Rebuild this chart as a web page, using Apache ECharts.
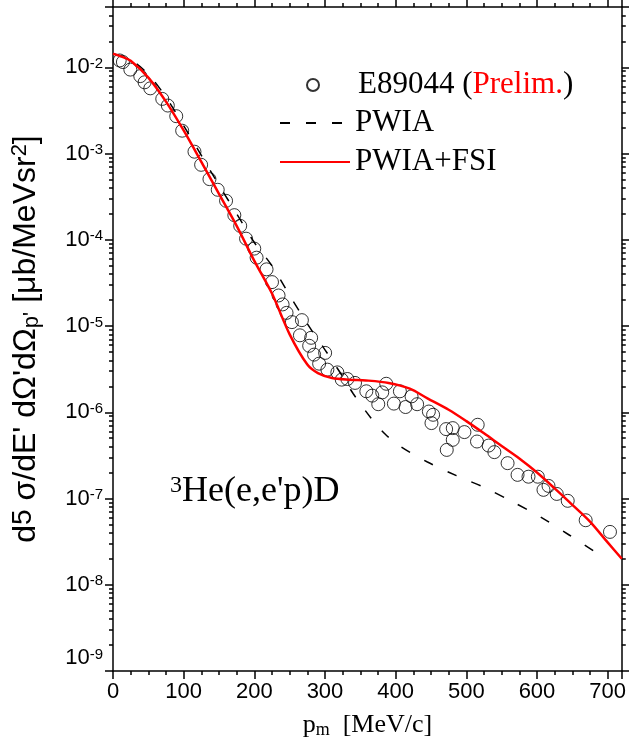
<!DOCTYPE html>
<html><head><meta charset="utf-8">
<script src="https://cdn.jsdelivr.net/npm/echarts@6/dist/echarts.min.js"></script>
<style>html,body{margin:0;padding:0;background:#fff}#c{width:629px;height:744px}</style>
</head><body><div id="c"></div>
<script>
// ---- data ----
const expX = [9.5,14,24.5,38.6,44.7,52.8,69.7,77.6,89.5,97.9,115.3,124.7,136.5,148.2,160,171.7,180,188.3,199.9,203.2,217.3,225,234.3,240,245.6,253.2,264.5,267.3,277.6,280.4,284.6,291.7,300.2,303.4,317.5,323.7,331.7,342.5,358.5,366.9,375.4,381,386.7,397.5,406,414,422.5,430.4,447,450.7,453,471.4,472.3,480.8,480.8,497.3,515.1,516.1,531.6,539.7,558.4,572.5,588,601.2,609.2,616.3,628,643.5,668.9,703.3];
const expY = [1.20e-2,1.15e-2,9.4e-3,7.9e-3,6.7e-3,5.7e-3,4.3e-3,3.6e-3,2.71e-3,1.84e-3,1.05e-3,7.4e-4,5.05e-4,3.8e-4,2.83e-4,1.93e-4,1.45e-4,1.03e-4,7.9e-5,6.2e-5,4.54e-5,3.23e-5,2.26e-5,1.78e-5,1.42e-5,1.11e-5,7.8e-6,1.17e-5,5.9e-6,7.3e-6,4.66e-6,3.66e-6,4.88e-6,3.12e-6,2.9e-6,2.39e-6,2.43e-6,2.19e-6,1.75e-6,1.56e-6,1.24e-6,1.70e-6,2.14e-6,1.26e-6,1.75e-6,1.15e-6,1.53e-6,1.24e-6,1.02e-6,7.49e-7,9.35e-7,6.38e-7,3.66e-7,6.55e-7,4.79e-7,5.89e-7,4.58e-7,7.16e-7,4.11e-7,3.45e-7,2.57e-7,1.88e-7,1.79e-7,1.79e-7,1.26e-7,1.40e-7,1.13e-7,9.4e-8,5.6e-8,4.1e-8];

const pwiaX = [0,25,50,75,100,125,150,175,200,225,250,275,300,325,340,365,385,407,445,486,525,565,605,645,686,698];
const pwiaY = [1.44e-2,1.22e-2,8.3e-3,4.5e-3,2.1e-3,9.5e-4,4.3e-4,2.0e-4,9.3e-5,5.0e-5,2.26e-5,1.06e-5,5.3e-6,2.6e-6,1.64e-6,8.6e-7,5.6e-7,4.0e-7,2.65e-7,1.84e-7,1.35e-7,9.2e-8,6.1e-8,3.8e-8,2.3e-8,1.95e-8];

const fsiX = [0,12,25,50,75,100,125,150,175,200,225,250,275,290,310,335,358,390,420,445,475,500,525,550,575,600,625,650,675,700,720];
const fsiY = [1.44e-2,1.33e-2,1.19e-2,7.6e-3,4.0e-3,1.85e-3,8.0e-4,3.4e-4,1.45e-4,5.7e-5,2.38e-5,8.0e-6,3.57e-6,2.85e-6,2.5e-6,2.39e-6,2.34e-6,2.19e-6,1.88e-6,1.45e-6,1.07e-6,7.9e-7,5.7e-7,4.06e-7,2.91e-7,2.0e-7,1.31e-7,8.45e-8,5.4e-8,3.1e-8,2.0e-8];

const xTickValues = [0,100,200,300,400,500,600,700];
const yTickValues = [1e-9,1e-8,1e-7,1e-6,1e-5,1e-4,1e-3,1e-2];

// ---- axis extents and minor tick positions ----
const X_MIN = 0, X_MAX = 720, Y_MIN = 1e-9, Y_MAX = 0.05;
const yMinor = [];
for (let e = -9; e <= -2; e++) for (let m = 2; m <= 9; m++) { const v = m * Math.pow(10, e); if (v < 0.0499) yMinor.push(v); }

const SANS = 'Liberation Sans';
const SERIF = 'Liberation Serif';
const LS = {color:'#000', width:1.5};

function xAx(pos, interval, len, line) {
  return {type:'value', position:pos, min:X_MIN, max:X_MAX, interval:interval,
    axisLine:{show:line, onZero:false, lineStyle:LS},
    axisTick:{show:true, length:len, lineStyle:LS},
    axisLabel:{show:false}, splitLine:{show:false}};
}
function yAx(pos, custom, len, line) {
  const t = {show:true, length:len, lineStyle:LS};
  if (custom) t.customValues = custom;
  return {type:'log', logBase:10, position:pos, min:Y_MIN, max:Y_MAX,
    axisLine:{show:line, onZero:false, lineStyle:LS},
    axisTick:t, axisLabel:{show:false}, splitLine:{show:false}};
}

const xAxes = [xAx('bottom', 100, 8, true), xAx('bottom', 25, 4, false), xAx('top', 100, 8, true), xAx('top', 25, 4, false)];
Object.assign(xAxes[0], {
  axisLabel:{show:true, customValues:xTickValues, fontSize:22, fontFamily:SANS, color:'#000', margin:10},
  name:'p{sub|m}  [MeV/c]', nameLocation:'middle', nameGap:40,
  nameTextStyle:{fontFamily:SERIF, fontSize:26, color:'#000', lineHeight:28,
    rich:{sub:{fontFamily:SERIF, fontSize:18, lineHeight:10, verticalAlign:'bottom', color:'#000'}}}
});
const yAxes = [yAx('left', null, 8, true), yAx('left', yMinor, 4, false), yAx('right', null, 8, true), yAx('right', yMinor, 4, false)];
Object.assign(yAxes[0], {
  axisLabel:{show:true, customValues:yTickValues, margin:10, color:'#000', fontFamily:SANS, fontSize:22,
    formatter:function (v) {
      const e = Math.round(Math.log10(v));
      if (e === -9) return '{b|10}{s|' + e + '}\n{g| }';
      return '{b|10}{s|' + e + '}';
    },
    rich:{
      b:{fontSize:22, lineHeight:22, fontFamily:SANS, color:'#000'},
      s:{fontSize:15, lineHeight:15, verticalAlign:'top', fontFamily:SANS, color:'#000'},
      g:{fontSize:10, lineHeight:26}
    }},
  name:"d{s5|5} σ/dE' dΩ'dΩ{sub|p'} [μb/MeVsr{sup|2}]", nameLocation:'middle', nameGap:70,
  nameTextStyle:{fontFamily:SANS, fontSize:32, color:'#000', lineHeight:34,
    rich:{
      s5:{fontFamily:SANS, fontSize:28, lineHeight:28, verticalAlign:'top', color:'#000'},
      sub:{fontFamily:SANS, fontSize:22, lineHeight:13, verticalAlign:'bottom', color:'#000'},
      sup:{fontFamily:SANS, fontSize:22, lineHeight:16, verticalAlign:'top', color:'#000'}
    }}
});

const option = {
  animation:false,
  backgroundColor:'#fff',
  grid:{left:113, right:6, top:7, bottom:73, containLabel:false},
  xAxis:xAxes,
  yAxis:yAxes,
  legend:[
    {orient:'vertical', padding:0, itemGap:0, selectedMode:false, left:306, top:69, itemWidth:12, itemHeight:12, icon:'circle',
      data:['E89044'],
      formatter:function () { return '{sp| }E89044 ({r|Prelim.})'; },
      textStyle:{fontFamily:SERIF, fontSize:31, color:'#000', lineHeight:32,
        rich:{sp:{width:34, fontSize:10}, r:{fontFamily:SERIF, fontSize:31, color:'#ff0000', lineHeight:32}}}},
    {orient:'vertical', padding:0, itemGap:0, selectedMode:false, left:279, top:107, itemWidth:70, itemHeight:12, data:['PWIA'], itemStyle:{opacity:0},
      textStyle:{fontFamily:SERIF, fontSize:31, color:'#000', lineHeight:32}},
    {orient:'vertical', padding:0, itemGap:0, selectedMode:false, left:279, top:146, itemWidth:70, itemHeight:12, data:['PWIA+FSI'], itemStyle:{opacity:0},
      textStyle:{fontFamily:SERIF, fontSize:31, color:'#000', lineHeight:32}}
  ],
  graphic:[{
    type:'text', left:170, top:474,
    style:{text:"{sup|3}He(e,e'p)D", fontFamily:SERIF, fontSize:36, fill:'#000', lineHeight:36,
      rich:{sup:{fontFamily:SERIF, fontSize:24, lineHeight:24, verticalAlign:'top', fill:'#000'}}}
  }],
  series:[
    {
      name:'E89044', type:'scatter', symbol:'circle', symbolSize:13, z:3,
      itemStyle:{color:'rgba(255,255,255,0)', borderColor:'#000', borderWidth:1},
      emphasis:{disabled:true},
      data:expX.map((x, i) => [x, expY[i]])
    },
    {
      name:'PWIA', type:'line', symbol:'none', smooth:0.3, z:2,
      lineStyle:{color:'#000', width:1.5, type:[10,16]},
      itemStyle:{color:'#000'},
      emphasis:{disabled:true},
      data:pwiaX.map((x, i) => [x, pwiaY[i]])
    },
    {
      name:'PWIA+FSI', type:'line', symbol:'none', smooth:0.3, z:4,
      lineStyle:{color:'#ff0000', width:2.5},
      itemStyle:{color:'#ff0000'},
      emphasis:{disabled:true},
      data:fsiX.map((x, i) => [x, fsiY[i]])
    }
  ]
};
const chart = echarts.init(document.getElementById('c'), null, {renderer:'canvas'});
chart.setOption(option);
</script></body></html>
